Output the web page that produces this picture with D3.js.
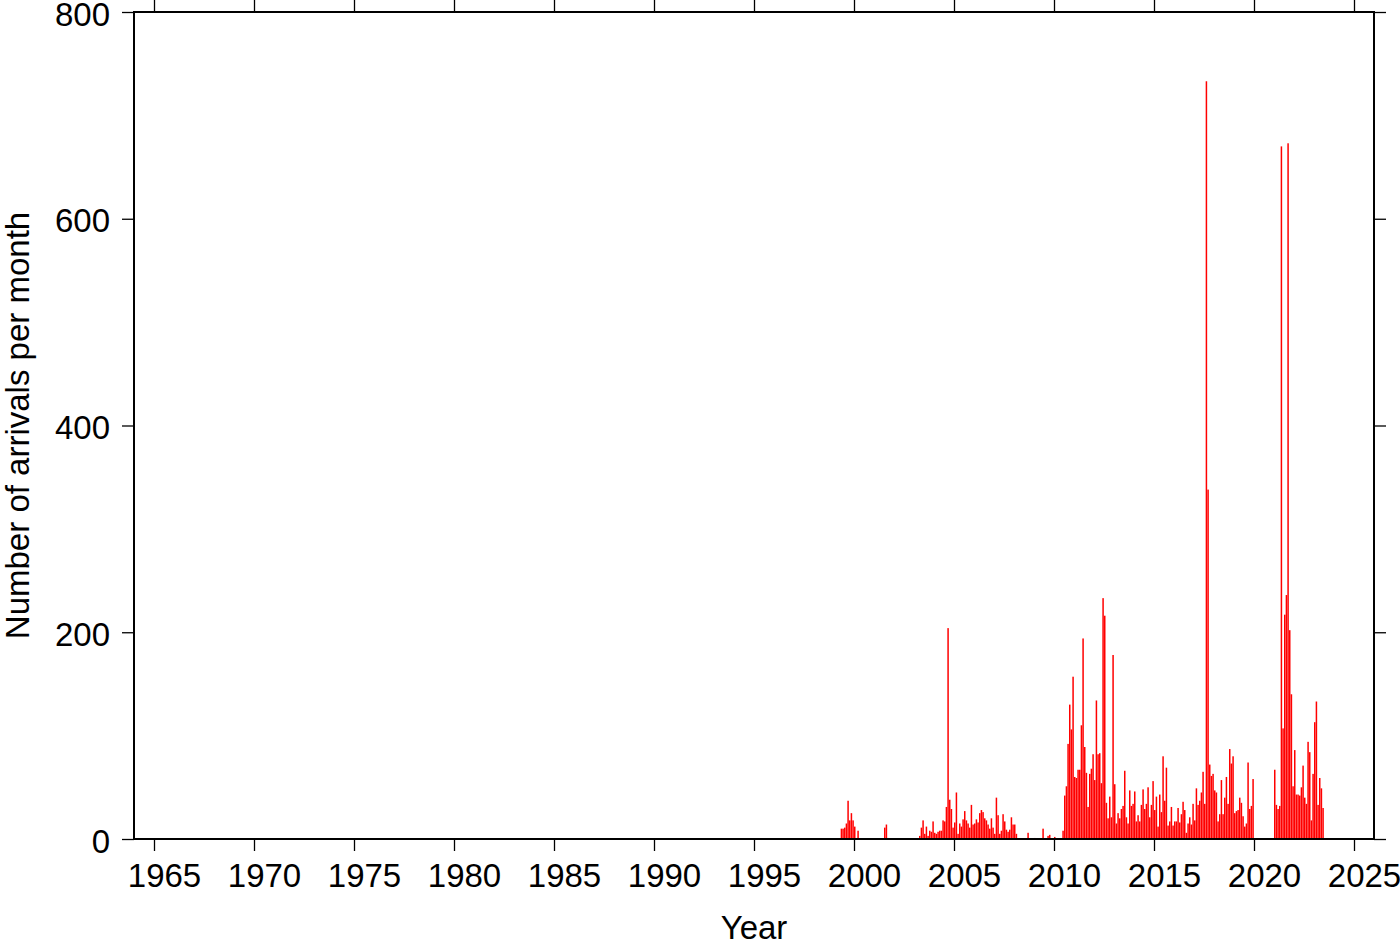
<!DOCTYPE html>
<html>
<head>
<meta charset="utf-8">
<script src="https://cdn.jsdelivr.net/npm/d3@7"></script>
<style>
  html, body { margin: 0; padding: 0; background: #fff; }
  svg { display: block; }
  text { font-family: "Liberation Sans", Arial, Helvetica, sans-serif; fill: #000; }
</style>
</head>
<body>
<svg id="chart" width="1400" height="942"></svg>
<script>
// ---- Data (monthly arrival counts, Jan..Dec for each year) ----
const years = [1999, 2000, 2001, 2002, 2003, 2004, 2005, 2006, 2007, 2008, 2009, 2010,
               2011, 2012, 2013, 2014, 2015, 2016, 2017, 2018, 2019, 2020, 2021, 2022, 2023];
const monthly = [
  [0, 0, 0, 0, 10, 10, 11, 15, 37, 18, 25, 18],          // 1999
  [12, 0, 8, 0, 0, 0, 0, 0, 0, 0, 0, 0],                 // 2000
  [0, 0, 0, 0, 0, 0, 11, 14, 1, 0, 0, 0],                // 2001
  [0, 0, 0, 0, 0, 0, 0, 0, 0, 0, 0, 0],                  // 2002
  [0, 0, 0, 3, 11, 18, 5, 12, 3, 8, 7, 17],              // 2003
  [6, 5, 7, 8, 8, 18, 17, 31, 204, 38, 29, 11],          // 2004
  [16, 45, 5, 15, 12, 19, 27, 18, 15, 11, 33, 14],       // 2005
  [15, 19, 16, 25, 28, 26, 20, 18, 14, 10, 20, 11],      // 2006
  [5, 40, 23, 5, 8, 24, 17, 9, 7, 9, 21, 14],            // 2007
  [14, 5, 0, 0, 0, 0, 0, 0, 6, 0, 0, 0],                 // 2008
  [1, 0, 0, 0, 0, 10, 0, 0, 3, 4, 0, 0],                 // 2009
  [2, 0, 0, 0, 0, 8, 42, 51, 92, 130, 106, 157],         // 2010
  [60, 59, 67, 67, 110, 194, 89, 64, 31, 63, 68, 82],    // 2011
  [57, 134, 82, 83, 54, 233, 216, 35, 20, 41, 21, 178],  // 2012
  [53, 15, 25, 20, 29, 32, 66, 21, 15, 47, 32, 34],      // 2013
  [46, 17, 23, 17, 33, 48, 29, 34, 50, 21, 33, 56],      // 2014
  [28, 41, 12, 43, 26, 80, 37, 69, 13, 17, 31, 13],      // 2015
  [17, 17, 30, 16, 24, 36, 28, 6, 15, 21, 14, 34],       // 2016
  [18, 49, 33, 37, 45, 65, 34, 733, 338, 72, 61, 63],    // 2017
  [47, 45, 17, 24, 57, 24, 40, 60, 34, 87, 73, 80],      // 2018
  [25, 27, 28, 40, 35, 22, 12, 15, 74, 29, 32, 58],      // 2019
  [0, 0, 0, 0, 0, 0, 0, 0, 0, 0, 0, 0],                  // 2020
  [67, 33, 29, 32, 670, 107, 217, 236, 673, 202, 140, 51], // 2021
  [86, 43, 43, 42, 50, 71, 40, 34, 94, 84, 18, 63],      // 2022
  [113, 133, 33, 59, 49, 30, 0, 0, 0, 0, 0, 0]           // 2023
];
const xTicks = [1965, 1970, 1975, 1980, 1985, 1990, 1995, 2000, 2005, 2010, 2015, 2020, 2025];
const yTicks = [0, 200, 400, 600, 800];
const xLabel = "Year";
const yLabel = "Number of arrivals per month";

// ---- Layout ----
const mLeft = 134, mRight = 1374, mTop = 12, mBottom = 839;
const svg = d3.select("#chart");

const x = d3.scaleLinear().domain([1964, 2026]).range([mLeft, mRight]);
const y = d3.scaleLinear().domain([0, 800]).range([mBottom, mTop]);

const bars = [];
years.forEach((yr, i) => {
  monthly[i].forEach((v, m) => {
    if (v > 0) bars.push({ t: yr + m / 12, v: v });
  });
});

const monthW = x(1964 + 1 / 12) - x(1964);

svg.append("g")
  .selectAll("rect")
  .data(bars)
  .join("rect")
  .attr("x", d => x(d.t))
  .attr("y", d => y(d.v))
  .attr("width", monthW * 0.9)
  .attr("height", d => y(0) - y(d.v))
  .attr("fill", "#ff0000");

// ---- Axes ----
const tickLen = 12;
const fontSize = 33;

const axB = d3.axisBottom(x).tickValues(xTicks).tickFormat(d3.format("d")).tickSize(tickLen).tickPadding(13);
const axT = d3.axisTop(x).tickValues(xTicks).tickFormat("").tickSize(tickLen);
const axL = d3.axisLeft(y).tickValues(yTicks).tickFormat(d3.format("d")).tickSize(tickLen).tickPadding(12);
const axR = d3.axisRight(y).tickValues(yTicks).tickFormat("").tickSize(tickLen);

function style(g) {
  g.select(".domain").remove();
  g.selectAll(".tick line").attr("stroke", "#000").attr("stroke-width", 1.3);
  g.selectAll(".tick text")
    .attr("font-family", "'Liberation Sans', Arial, Helvetica, sans-serif")
    .attr("font-size", fontSize)
    .attr("fill", "#000");
}

const gB = svg.append("g").attr("transform", `translate(0,${mBottom})`).call(axB).call(style);
gB.selectAll(".tick text").attr("dx", 10);
svg.append("g").attr("transform", `translate(0,${mTop})`).call(axT).call(style);
const gL = svg.append("g").attr("transform", `translate(${mLeft},0)`).call(axL).call(style);
gL.selectAll(".tick text").attr("dy", "0.4em");
svg.append("g").attr("transform", `translate(${mRight},0)`).call(axR).call(style);

// frame
svg.append("rect")
  .attr("x", mLeft).attr("y", mTop)
  .attr("width", mRight - mLeft).attr("height", mBottom - mTop)
  .attr("fill", "none").attr("stroke", "#000").attr("stroke-width", 2);

// axis titles
svg.append("text")
  .attr("x", (mLeft + mRight) / 2).attr("y", 939)
  .attr("text-anchor", "middle")
  .attr("font-size", 33)
  .text(xLabel);

svg.append("text")
  .attr("transform", `translate(29,${(mTop + mBottom) / 2}) rotate(-90)`)
  .attr("text-anchor", "middle")
  .attr("font-size", 33)
  .text(yLabel);
</script>
</body>
</html>
